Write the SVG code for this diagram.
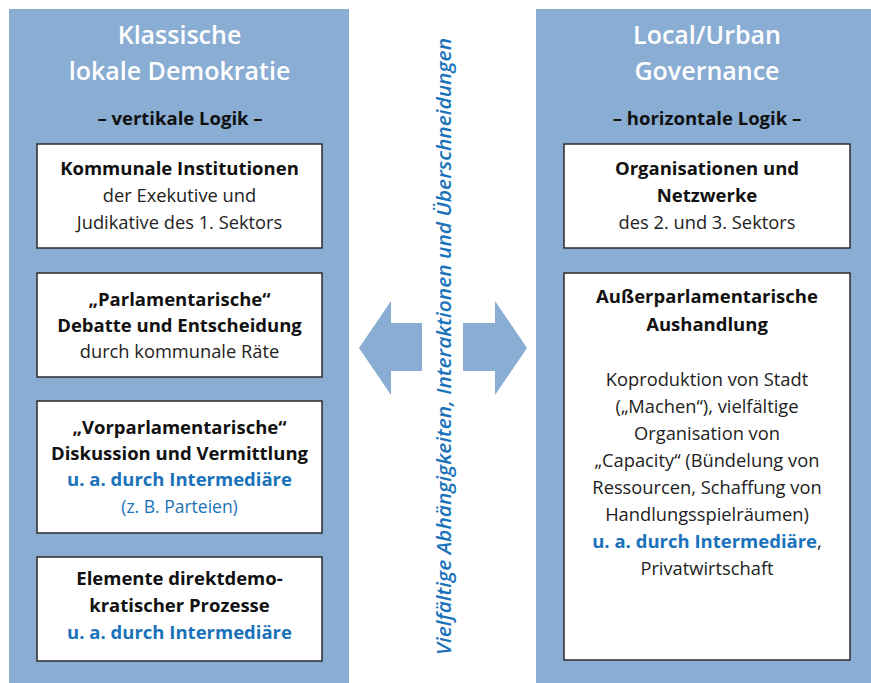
<svg xmlns="http://www.w3.org/2000/svg" width="871" height="683" viewBox="0 0 871 683">
<style>
text{font-family:"Open Sans","Noto Sans","Liberation Sans",sans-serif;text-anchor:middle}
.panel{fill:#8aadd4}
.box{fill:#ffffff;stroke:#2b2b2b;stroke-width:1.5}
.title{fill:#ffffff;font-size:25px;font-weight:600}
.logic{fill:#111111;font-size:18.5px;font-weight:700}
.b{fill:#111111;font-size:18.5px;font-weight:700}
.r{fill:#222222;font-size:18.3px;font-weight:400}
.bl{fill:#1a73ba;font-size:18.5px;font-weight:700}
.blr{fill:#1a73ba;font-size:17.5px;font-weight:400}
.arrow{fill:#8aadd4}
.vert{fill:#1a73ba;font-size:19px;font-weight:600;font-style:italic}
</style>
<rect width="871" height="683" fill="#ffffff"/>
<g id="panel-left">
<rect class="panel" x="9" y="9" width="340" height="674"/>
<text class="title" x="179.5" y="44">Klassische</text>
<text class="title" x="179.5" y="80">lokale Demokratie</text>
<text class="logic" x="180" y="125">– vertikale Logik –</text>
</g>
<g id="box-kommunale">
<rect class="box" x="37" y="144" width="285" height="104"/>
<text class="b" x="179.5" y="175">Kommunale Institutionen</text>
<text class="r" x="179.5" y="202">der Exekutive und</text>
<text class="r" x="179.5" y="229">Judikative des 1. Sektors</text>
</g>
<g id="box-parlamentarische">
<rect class="box" x="37" y="273" width="285" height="104"/>
<text class="b" x="179.5" y="306">„Parlamentarische“</text>
<text class="b" x="179.5" y="332">Debatte und Entscheidung</text>
<text class="r" x="179.5" y="358">durch kommunale Räte</text>
</g>
<g id="box-vorparlamentarische">
<rect class="box" x="37" y="401" width="285" height="132"/>
<text class="b" x="179.5" y="434">„Vorparlamentarische“</text>
<text class="b" x="179.5" y="460">Diskussion und Vermittlung</text>
<text class="bl" x="179.5" y="486">u. a. durch Intermediäre</text>
<text class="blr" x="179.5" y="513">(z. B. Parteien)</text>
</g>
<g id="box-direktdemokratisch">
<rect class="box" x="37" y="557" width="285" height="104"/>
<text class="b" x="179.5" y="585">Elemente direktdemo-</text>
<text class="b" x="179.5" y="612">kratischer Prozesse</text>
<text class="bl" x="179.5" y="639">u. a. durch Intermediäre</text>
</g>
<g id="panel-right">
<rect class="panel" x="536" y="9" width="335" height="674"/>
<text class="title" x="707" y="44">Local/Urban</text>
<text class="title" x="707" y="80">Governance</text>
<text class="logic" x="707" y="125">– horizontale Logik –</text>
</g>
<g id="box-organisationen">
<rect class="box" x="564" y="144" width="286" height="104"/>
<text class="b" x="707" y="175">Organisationen und</text>
<text class="b" x="707" y="202">Netzwerke</text>
<text class="r" x="707" y="229">des 2. und 3. Sektors</text>
</g>
<g id="box-aushandlung">
<rect class="box" x="564" y="273" width="286" height="387"/>
<text class="b" x="707" y="303">Außerparlamentarische</text>
<text class="b" x="707" y="331">Aushandlung</text>
<text class="r" x="707" y="386">Koproduktion von Stadt</text>
<text class="r" x="707" y="413">(„Machen“), vielfältige</text>
<text class="r" x="707" y="440">Organisation von</text>
<text class="r" x="707" y="467">„Capacity“ (Bündelung von</text>
<text class="r" x="707" y="494">Ressourcen, Schaffung von</text>
<text class="r" x="707" y="521">Handlungsspielräumen)</text>
<text x="707" y="548"><tspan class="bl">u. a. durch Intermediäre</tspan><tspan class="r">,</tspan></text>
<text class="r" x="707" y="575">Privatwirtschaft</text>
</g>
<g id="connectors">
<polygon class="arrow" points="359,348 391,301 391,323 422,323 422,371 391,371 391,395"/>
<polygon class="arrow" points="527,348 495,301 495,323 463,323 463,371 495,371 495,395"/>
</g>
<g id="label-vertical">
<text class="vert" transform="translate(451,346.5) rotate(-90)" x="0" y="0" textLength="617" lengthAdjust="spacingAndGlyphs">Vielfältige Abhängigkeiten, Interaktionen und Überschneidungen</text>
</g>
</svg>
